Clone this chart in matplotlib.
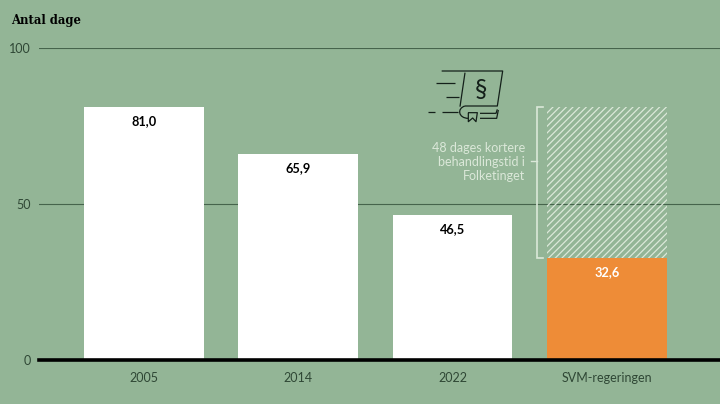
import matplotlib
matplotlib.use("Agg")
import matplotlib.pyplot as plt
from matplotlib.patches import PathPatch
from matplotlib.path import Path

categories = ["2005", "2014", "2022", "SVM-regeringen"]
values = [81.0, 65.9, 46.5, 32.6]
hatched_top = 81.0
y_ticks = [0, 50, 100]
annotation = "48 dages kortere\nbehandlingstid i\nFolketinget"
ylabel = "Antal dage"

BG = "#93b596"
PALE = "#dbe8d9"
DARK = "#2f4735"
ORANGE = "#ee8c37"
INK = "#14201a"

W, H = 720, 404
plt.rcParams["font.family"] = ["Lato", "DejaVu Sans"]
plt.rcParams["hatch.linewidth"] = 0.9
plt.rcParams["hatch.color"] = PALE

fig = plt.figure(figsize=(W / 100, H / 100), dpi=100, facecolor=BG)
ax = fig.add_axes([39 / W, 1 - 360 / H, (W - 39) / W, 312 / H], facecolor="none")
ax.set_xlim(-0.680, 3.732)
ax.set_ylim(0, 100)

x = list(range(len(categories)))
colors = ["white", "white", "white", ORANGE]
ax.bar(x, values, width=0.775, color=colors, linewidth=0, zorder=2)
ax.bar(3, hatched_top - values[3], bottom=values[3], width=0.775,
       facecolor="none", edgecolor=PALE, hatch="/////", linewidth=0, zorder=1.5)

for xi, v, c in zip(x, values, ["black", "black", "black", "white"]):
    ax.annotate(f"{v:.1f}".replace(".", ","), (xi, v), xytext=(0, -10),
                textcoords="offset points", ha="center", va="center",
                fontsize=9.2, fontweight="bold", color=c, zorder=4)

ax.set_yticks(y_ticks)
ax.set_xticks(x, categories)
ax.tick_params(axis="both", length=0, labelsize=9, labelcolor=DARK)
ax.tick_params(axis="y", pad=6)
ax.tick_params(axis="x", pad=9)
ax.grid(axis="y", color="#46644c", linewidth=0.8, zorder=1)
ax.set_axisbelow(True)
for s in ["top", "right", "left"]:
    ax.spines[s].set_visible(False)
ax.spines["bottom"].set_linewidth(2.6)
ax.spines["bottom"].set_color("black")
ax.spines["bottom"].set_zorder(5)

# bracket around the saved days, x in bar units, y in data units
ax.plot([2.585, 2.546, 2.546, 2.585], [hatched_top, hatched_top, values[3], values[3]],
        color=PALE, linewidth=1.2, zorder=3, solid_joinstyle="miter")

# overlay in pixel coordinates for text and icon
ov = fig.add_axes([0, 0, 1, 1], facecolor="none")
ov.set_xlim(0, W)
ov.set_ylim(H, 0)
ov.axis("off")

ov.plot([531, 537], [161, 161], color=PALE, linewidth=1.0)
ov.text(525, 161.5, annotation, ha="right", va="center", fontsize=9, color=PALE,
        linespacing=1.2)
ov.text(11, 20.5, ylabel, ha="left", va="center", fontsize=8.4, fontweight="bold",
        color="black", family=["DejaVu Serif"])

def icon_xy(px, py):
    return 400 + px / 3, 60 + py / 3

icon_strokes = [
    [(125, 33), (308, 33), (292, 138), (195, 138)],
    [(195, 38), (180, 140)],
    [(108, 70), (165, 70)],
    [(138, 110), (178, 110)],
    [(85, 157), (105, 157)],
    [(125, 157), (175, 157)],
    [(240, 160), (288, 160), (292, 148)],
    [(240, 175), (290, 175), (295, 150)],
    [(205, 158), (232, 158), (228, 185), (218, 174), (205, 185), (205, 158)],
]
for st in icon_strokes:
    xs, ys = zip(*[icon_xy(*p) for p in st])
    ov.plot(xs, ys, color=INK, linewidth=0.9, solid_capstyle="butt")
curve = Path([icon_xy(195, 138), icon_xy(170, 145), icon_xy(175, 175), icon_xy(205, 175)],
             [Path.MOVETO, Path.CURVE4, Path.CURVE4, Path.CURVE4])
ov.add_patch(PathPatch(curve, facecolor="none", edgecolor=INK, linewidth=0.9))
ov.text(*icon_xy(243, 88), "§", ha="center", va="center", fontsize=18,
        color=INK, family=["Lato", "DejaVu Sans"])

fig.savefig("out.png", dpi=100, facecolor=BG)
